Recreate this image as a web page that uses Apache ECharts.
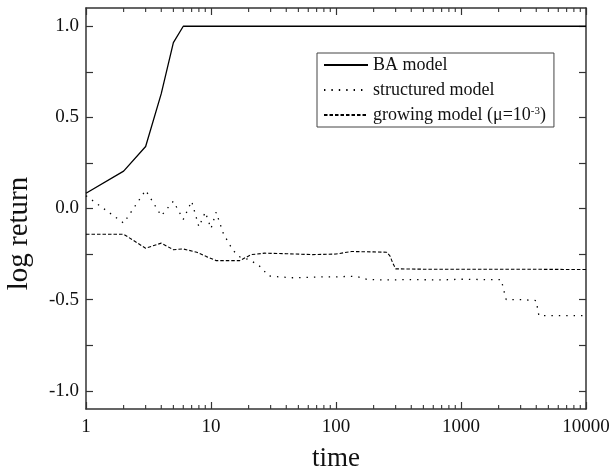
<!DOCTYPE html>
<html>
<head>
<meta charset="utf-8">
<script src="https://cdn.jsdelivr.net/npm/echarts@6/dist/echarts.min.js"></script>
<style>
html,body{margin:0;padding:0;background:#fff;}
#chart{width:612px;height:472px;}
</style>
</head>
<body>
<div id="chart"></div>
<script>
// ---- data ----
var baTime = [1, 2, 3, 4, 5, 6, 10, 100, 1000, 10000];
var baValue = [0.084, 0.205, 0.34, 0.63, 0.91, 1.0, 1.0, 1.0, 1.0, 1.0];

var structTime = [1, 2, 3, 4, 5, 6, 7, 8, 9, 10, 11, 12.6, 15, 17, 20, 24, 29, 35, 45, 60, 80, 100, 130, 150, 180, 250, 400, 700, 1000, 1500, 2100, 2200, 2300, 3000, 4000, 4100, 4200, 6000, 10000];
var structValue = [0.07, -0.08, 0.10, -0.04, 0.04, -0.06, 0.04, -0.10, -0.02, -0.11, -0.02, -0.14, -0.23, -0.265, -0.28, -0.31, -0.37, -0.375, -0.38, -0.378, -0.375, -0.375, -0.372, -0.375, -0.39, -0.392, -0.39, -0.392, -0.388, -0.39, -0.39, -0.45, -0.50, -0.50, -0.505, -0.55, -0.588, -0.588, -0.588];

var growTime = [1, 2, 3, 4, 5, 6, 7.7, 9.2, 11, 17, 21, 27, 40, 65, 100, 133, 200, 254, 270, 285, 300, 500, 1000, 3000, 10000];
var growValue = [-0.141, -0.141, -0.218, -0.19, -0.226, -0.222, -0.24, -0.264, -0.286, -0.286, -0.253, -0.245, -0.248, -0.253, -0.25, -0.236, -0.238, -0.24, -0.26, -0.30, -0.331, -0.333, -0.333, -0.333, -0.335];

var seriesNames = ['BA model', 'structured model', 'growing model'];
var xMajorTicks = [1, 10, 100, 1000, 10000];
var xMinorTicks = [2, 3, 4, 5, 6, 7, 8, 9, 20, 30, 40, 50, 60, 70, 80, 90, 200, 300, 400, 500, 600, 700, 800, 900, 2000, 3000, 4000, 5000, 6000, 7000, 8000, 9000];
var yTicks = [-1, -0.75, -0.5, -0.25, 0, 0.25, 0.5, 0.75, 1];
var yLabels = [-1, -0.5, 0, 0.5, 1];
var yMin = -1.1, yMax = 1.1;

function zip(a, b) { return a.map(function (v, i) { return [v, b[i]]; }); }

var font = 'Liberation Serif';
var axisColor = '#333';

var chart = echarts.init(document.getElementById('chart'), null, {renderer: 'canvas'});

function xAxisCfg(pos, showLabel) {
  return {
    type: 'log', logBase: 10, min: 1, max: 10000, position: pos,
    axisLine: {show: true, onZero: false, lineStyle: {color: axisColor, width: 1.5}},
    axisTick: {show: true, inside: true, length: 7, lineStyle: {color: axisColor, width: 1.2}},
    axisLabel: {show: showLabel, fontFamily: font, fontSize: 19, color: '#111', margin: 9,
      showMinLabel: true, showMaxLabel: true,
      formatter: function (v) { return String(Math.round(v)); }},
    splitLine: {show: false}, minorTick: {show: false}, minorSplitLine: {show: false}
  };
}
function yAxisCfg(pos, showLabel) {
  return {
    type: 'value', min: yMin, max: yMax, position: pos,
    axisLine: {show: true, onZero: false, lineStyle: {color: axisColor, width: 1.5}},
    axisTick: {show: true, inside: true, length: 7, customValues: yTicks, lineStyle: {color: axisColor, width: 1.2}},
    axisLabel: {show: showLabel, customValues: yLabels, fontFamily: font, fontSize: 19, color: '#111', margin: 7,
      formatter: function (v) { return v.toFixed(1); }},
    splitLine: {show: false}
  };
}

var xb = xAxisCfg('bottom', true);
xb.name = 'time';
xb.nameLocation = 'middle';
xb.nameGap = 36;
xb.nameTextStyle = {fontFamily: font, fontSize: 27, color: '#111'};
var yl = yAxisCfg('left', true);
yl.name = 'log return';
yl.nameLocation = 'middle';
yl.nameGap = 52;
yl.nameTextStyle = {fontFamily: font, fontSize: 29, color: '#111', padding: [0, 50, 0, 0]};

var option = {
  animation: false,
  backgroundColor: '#fff',
  grid: {left: 86, right: 26, top: 8, bottom: 63, containLabel: false, outerBoundsMode: 'none'},
  xAxis: [xb, xAxisCfg('top', false)],
  yAxis: [yl, yAxisCfg('right', false)],
  legend: {
    data: seriesNames,
    orient: 'vertical', left: 317, top: 53,
    backgroundColor: '#fff',
    borderColor: '#444', borderWidth: 1,
    padding: [3, 8, 3, 6],
    itemGap: 7, itemWidth: 44, itemHeight: 12,
    itemStyle: {opacity: 0},
    textStyle: {fontFamily: font, fontSize: 18, color: '#111', lineHeight: 18,
      rich: {
        a: {fontFamily: font, fontSize: 18, color: '#111', lineHeight: 18},
        sup: {fontFamily: font, fontSize: 11, color: '#111', verticalAlign: 'top', lineHeight: 18, padding: [0, 0, 6, 0]}
      }},
    formatter: function (name) {
      if (name === 'growing model') return '{a|growing model (μ=10}{sup|-3}{a|)}';
      return name;
    }
  },
  series: [
    {name: seriesNames[0], type: 'line', data: zip(baTime, baValue), symbol: 'none', showSymbol: false,
      lineStyle: {color: '#000', width: 1.3, type: 'solid'}, itemStyle: {color: '#000'}},
    {name: seriesNames[1], type: 'line', data: zip(structTime, structValue), symbol: 'none', showSymbol: false,
      lineStyle: {color: '#000', width: 1.3, type: [1.4, 6]}, itemStyle: {color: '#000'}},
    {name: seriesNames[2], type: 'line', data: zip(growTime, growValue), symbol: 'none', showSymbol: false,
      lineStyle: {color: '#000', width: 1.1, type: [3.5, 2]}, itemStyle: {color: '#000'}},
    {name: 'minorTicks', type: 'custom', silent: true, clip: false, z: 5,
      data: xMinorTicks.map(function (v) { return [v]; }),
      encode: {x: 0},
      renderItem: function (params, api) {
        var v = api.value(0);
        var pb = api.coord([v, yMin]);
        var pt = api.coord([v, yMax]);
        return {type: 'group', children: [
          {type: 'line', shape: {x1: pb[0], y1: pb[1], x2: pb[0], y2: pb[1] - 4}, style: {stroke: axisColor, lineWidth: 1.1}},
          {type: 'line', shape: {x1: pt[0], y1: pt[1], x2: pt[0], y2: pt[1] + 4}, style: {stroke: axisColor, lineWidth: 1.1}}
        ]};
      }}
  ]
};
chart.setOption(option);
</script>
</body>
</html>
